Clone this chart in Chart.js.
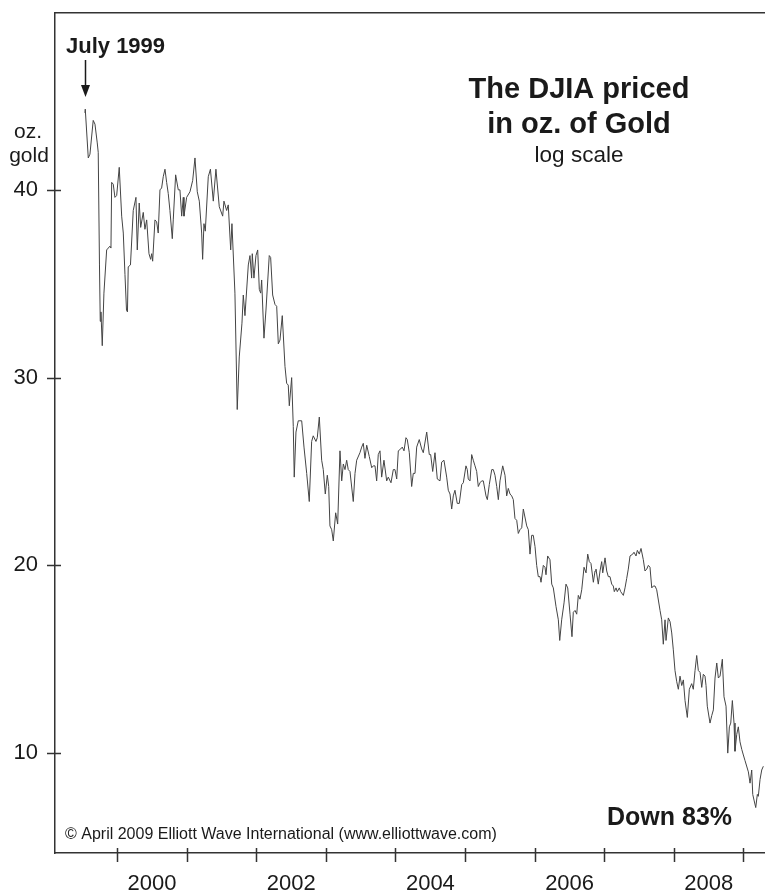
<!DOCTYPE html>
<html>
<head>
<meta charset="utf-8">
<script src="https://cdn.jsdelivr.net/npm/chart.js@4.4.1/dist/chart.umd.min.js"></script>
<style>
  html, body { margin: 0; padding: 0; background: #fff; }
  #wrap { position: relative; width: 765px; height: 892px; }
</style>
</head>
<body>
<div id="wrap"><canvas id="djiaGold" width="765" height="892"></canvas></div>
<script>
// weekly-ish readings, decimal years
const dates = [
  1999.540, 1999.545, 1999.588, 1999.612, 1999.659, 1999.684, 1999.717, 1999.731, 1999.749, 1999.760,
  1999.770, 1999.789, 1999.813, 1999.852, 1999.899, 1999.914, 1999.924, 1999.947, 1999.971, 1999.996,
  2000.033, 2000.068, 2000.091, 2000.115, 2000.137, 2000.151, 2000.162, 2000.194, 2000.234, 2000.273,
  2000.292, 2000.320, 2000.341, 2000.378, 2000.402, 2000.427, 2000.460, 2000.484, 2000.499, 2000.513,
  2000.546, 2000.570, 2000.593, 2000.618, 2000.642, 2000.665, 2000.690, 2000.714, 2000.737, 2000.761,
  2000.795, 2000.809, 2000.843, 2000.881, 2000.905, 2000.930, 2000.953, 2000.963, 2001.001, 2001.049,
  2001.088, 2001.121, 2001.154, 2001.183, 2001.217, 2001.231, 2001.250, 2001.269, 2001.312, 2001.343,
  2001.384, 2001.422, 2001.470, 2001.519, 2001.537, 2001.576, 2001.599, 2001.634, 2001.652, 2001.695,
  2001.728, 2001.757, 2001.796, 2001.815, 2001.839, 2001.887, 2001.911, 2001.935, 2001.944, 2001.968,
  2001.997, 2002.022, 2002.045, 2002.065, 2002.079, 2002.112, 2002.141, 2002.188, 2002.208, 2002.237,
  2002.270, 2002.295, 2002.318, 2002.342, 2002.375, 2002.414, 2002.438, 2002.461, 2002.476, 2002.510,
  2002.533, 2002.547, 2002.572, 2002.605, 2002.629, 2002.654, 2002.687, 2002.726, 2002.763, 2002.797,
  2002.820, 2002.859, 2002.878, 2002.907, 2002.941, 2002.964, 2002.993, 2003.022, 2003.042, 2003.060,
  2003.085, 2003.108, 2003.142, 2003.171, 2003.204, 2003.229, 2003.252, 2003.276, 2003.300, 2003.323,
  2003.348, 2003.395, 2003.420, 2003.444, 2003.491, 2003.516, 2003.539, 2003.563, 2003.588, 2003.625,
  2003.660, 2003.683, 2003.707, 2003.731, 2003.754, 2003.779, 2003.803, 2003.836, 2003.875, 2003.898,
  2003.937, 2003.970, 2003.994, 2004.019, 2004.042, 2004.076, 2004.099, 2004.124, 2004.152, 2004.171,
  2004.200, 2004.234, 2004.257, 2004.282, 2004.306, 2004.343, 2004.378, 2004.401, 2004.450, 2004.487,
  2004.507, 2004.536, 2004.569, 2004.602, 2004.641, 2004.665, 2004.698, 2004.737, 2004.760, 2004.785,
  2004.809, 2004.832, 2004.856, 2004.889, 2004.918, 2004.953, 2004.976, 2005.014, 2005.033, 2005.047,
  2005.072, 2005.096, 2005.119, 2005.144, 2005.168, 2005.191, 2005.216, 2005.240, 2005.263, 2005.302,
  2005.321, 2005.349, 2005.384, 2005.407, 2005.431, 2005.456, 2005.479, 2005.503, 2005.542, 2005.575,
  2005.599, 2005.622, 2005.647, 2005.671, 2005.694, 2005.718, 2005.743, 2005.766, 2005.790, 2005.815,
  2005.838, 2005.887, 2005.910, 2005.934, 2005.958, 2005.981, 2006.006, 2006.030, 2006.053, 2006.078,
  2006.092, 2006.125, 2006.149, 2006.164, 2006.188, 2006.221, 2006.246, 2006.269, 2006.308, 2006.341,
  2006.361, 2006.389, 2006.423, 2006.451, 2006.476, 2006.509, 2006.537, 2006.556, 2006.581, 2006.605,
  2006.628, 2006.652, 2006.677, 2006.710, 2006.739, 2006.763, 2006.786, 2006.810, 2006.844, 2006.868,
  2006.882, 2006.915, 2006.940, 2006.964, 2006.979, 2007.012, 2007.036, 2007.059, 2007.083, 2007.108,
  2007.131, 2007.145, 2007.170, 2007.188, 2007.217, 2007.237, 2007.275, 2007.299, 2007.323, 2007.346,
  2007.371, 2007.410, 2007.428, 2007.457, 2007.476, 2007.504, 2007.529, 2007.562, 2007.586, 2007.611,
  2007.634, 2007.658, 2007.683, 2007.706, 2007.730, 2007.754, 2007.802, 2007.826, 2007.849, 2007.874,
  2007.888, 2007.921, 2007.946, 2007.970, 2007.993, 2008.017, 2008.042, 2008.065, 2008.089, 2008.114,
  2008.137, 2008.161, 2008.194, 2008.223, 2008.257, 2008.280, 2008.305, 2008.329, 2008.352, 2008.377,
  2008.401, 2008.424, 2008.448, 2008.463, 2008.481, 2008.520, 2008.545, 2008.568, 2008.592, 2008.617,
  2008.640, 2008.664, 2008.697, 2008.721, 2008.750, 2008.775, 2008.798, 2008.818, 2008.841, 2008.865,
  2008.879, 2008.904, 2008.927, 2008.951, 2008.976, 2008.999, 2009.023, 2009.071, 2009.095, 2009.119,
  2009.134, 2009.152, 2009.177, 2009.200, 2009.214, 2009.239, 2009.263, 2009.286
];

// DJIA / gold, oz.
const ozGold = [
  44.1, 44.3, 41.7, 41.9, 43.7, 43.5, 42.5, 42.0, 36.0, 33.0,
  33.5, 31.7, 34.5, 36.8, 37.0, 36.9, 40.4, 40.3, 39.6, 39.7,
  41.2, 38.6, 37.7, 35.5, 33.6, 33.5, 35.9, 36.0, 38.9, 39.6,
  36.8, 39.3, 38.0, 38.8, 37.9, 38.4, 36.6, 36.3, 36.6, 36.2,
  38.4, 38.3, 37.7, 40.0, 40.1, 40.7, 41.1, 40.4, 39.8, 38.9,
  37.4, 38.4, 40.8, 40.0, 40.0, 38.6, 39.6, 38.6, 39.6, 39.9,
  40.5, 41.7, 39.9, 39.4, 37.7, 36.3, 38.2, 37.8, 40.7, 41.1,
  39.4, 41.1, 39.1, 38.6, 39.4, 38.9, 39.2, 36.8, 38.2, 34.5,
  28.3, 31.1, 32.9, 34.4, 33.3, 36.0, 36.5, 35.3, 36.6, 35.3,
  36.5, 36.8, 34.7, 34.5, 35.2, 32.1, 33.6, 36.5, 36.4, 34.4,
  33.9, 33.8, 31.8, 32.0, 33.3, 30.6, 29.7, 29.6, 28.5, 30.0,
  27.4, 24.7, 27.1, 27.7, 27.7, 27.7, 26.3, 24.9, 23.4, 26.6,
  26.9, 26.6, 26.8, 27.9, 25.6, 25.1, 23.8, 24.8, 24.2, 22.1,
  21.9, 21.3, 22.8, 22.2, 26.1, 24.5, 25.4, 25.1, 25.6, 25.1,
  25.0, 23.4, 24.9, 25.6, 26.0, 26.3, 26.5, 25.7, 26.4, 25.8,
  25.2, 25.3, 25.3, 24.5, 25.9, 26.1, 24.7, 25.6, 24.5, 24.7,
  24.4, 25.1, 25.1, 24.6, 26.1, 26.2, 26.3, 26.1, 26.8, 26.7,
  26.0, 24.2, 24.9, 24.9, 26.3, 26.7, 26.2, 26.0, 27.1, 25.9,
  25.9, 25.0, 26.0, 24.6, 24.5, 25.5, 25.6, 24.7, 24.0, 23.8,
  23.0, 23.7, 24.0, 23.3, 23.3, 24.3, 24.4, 25.3, 25.1, 24.6,
  24.5, 25.9, 25.6, 25.3, 25.0, 24.2, 24.4, 24.5, 24.5, 23.7,
  23.5, 24.3, 25.1, 25.1, 24.8, 24.2, 23.5, 24.5, 25.3, 24.8,
  23.7, 24.1, 23.8, 23.7, 23.5, 22.5, 22.4, 21.7, 21.9, 22.0,
  23.0, 22.1, 21.9, 20.6, 21.6, 21.6, 21.0, 20.0, 19.4, 19.4,
  19.1, 20.0, 19.9, 19.5, 20.5, 20.3, 19.0, 18.8, 17.8, 17.1,
  16.0, 17.1, 18.0, 19.0, 18.8, 17.4, 16.2, 17.5, 17.6, 17.4,
  18.4, 18.2, 18.7, 19.9, 19.6, 20.6, 20.2, 20.1, 19.1, 19.7,
  19.8, 19.0, 19.7, 20.2, 19.6, 20.4, 19.7, 19.4, 19.4, 19.0,
  18.9, 18.6, 18.8, 18.6, 18.8, 18.6, 18.4, 18.8, 19.3, 19.8,
  20.5, 20.6, 20.7, 20.5, 20.8, 20.6, 20.9, 20.3, 19.7, 19.8,
  20.0, 19.9, 18.8, 18.9, 18.9, 18.7, 17.6, 17.1, 15.8, 17.1,
  16.0, 17.2, 17.0, 16.4, 15.5, 14.4, 13.8, 13.4, 14.1, 13.6,
  13.9, 12.8, 11.9, 13.4, 13.7, 13.4, 14.4, 15.2, 14.4, 14.3,
  13.5, 14.2, 14.1, 13.6, 12.5, 11.6, 12.0, 12.3, 14.0, 14.8,
  14.0, 14.1, 15.0, 13.0, 12.5, 10.0, 11.4, 11.6, 12.8, 11.6,
  10.1, 11.0, 11.4, 10.6, 10.2, 9.9, 9.6, 9.0, 8.4, 9.1,
  7.8, 7.5, 7.1, 7.8, 7.7, 8.6, 9.1, 9.3
];

const yTicks = [10, 20, 30, 40];
const yearTicks = [2000, 2001, 2002, 2003, 2004, 2005, 2006, 2007, 2008, 2009];
const labelledYears = [2000, 2002, 2004, 2006, 2008];

const FONT = '"Liberation Sans", Arial, Helvetica, sans-serif';
const INK = "#1a1a1a";
const AXIS = "#333";

Chart.defaults.font.family = FONT;
Chart.defaults.color = INK;

const points = dates.map((d, i) => ({ x: d, y: ozGold[i] }));

// tick marks that cross the axis lines
const crossTicks = {
  id: "crossTicks",
  afterDraw(chart) {
    const { ctx, chartArea, scales } = chart;
    ctx.save();
    ctx.strokeStyle = AXIS;
    ctx.lineWidth = 1.5;
    ctx.beginPath();
    yTicks.forEach((v) => {
      const y = Math.round(scales.y.getPixelForValue(v)) + 0.5;
      ctx.moveTo(chartArea.left - 8, y);
      ctx.lineTo(chartArea.left + 6, y);
    });
    yearTicks.forEach((v) => {
      const x = Math.round(scales.x.getPixelForValue(v)) + 0.5;
      ctx.moveTo(x, chartArea.bottom - 5);
      ctx.lineTo(x, chartArea.bottom + 9);
    });
    ctx.stroke();
    ctx.restore();
  },
};

// titles, notes and the July 1999 arrow
const notes = {
  id: "notes",
  afterDraw(chart) {
    const { ctx, scales } = chart;
    ctx.save();
    ctx.fillStyle = INK;
    ctx.textBaseline = "middle";

    ctx.textAlign = "center";
    ctx.font = `bold 29px ${FONT}`;
    ctx.fillText("The DJIA priced", 579, 90);
    ctx.fillText("in oz. of Gold", 579, 125);
    ctx.font = `22.5px ${FONT}`;
    ctx.fillText("log scale", 579, 156);

    ctx.font = `21px ${FONT}`;
    ctx.fillText("oz.", 28, 132);
    ctx.fillText("gold", 29, 156);

    ctx.textAlign = "left";
    ctx.font = `bold 22px ${FONT}`;
    ctx.fillText("July 1999", 66, 47);

    ctx.font = `bold 25px ${FONT}`;
    ctx.fillText("Down 83%", 607, 818);

    ctx.font = `16px ${FONT}`;
    ctx.fillText("\u00A9 April 2009 Elliott Wave International (www.elliottwave.com)", 65, 835);

    // arrow pointing at the first reading
    const ax = Math.round(scales.x.getPixelForValue(dates[0])) + 0.5;
    ctx.strokeStyle = INK;
    ctx.lineWidth = 1.5;
    ctx.beginPath();
    ctx.moveTo(ax, 60);
    ctx.lineTo(ax, 88);
    ctx.stroke();
    ctx.beginPath();
    ctx.moveTo(ax - 4.5, 85);
    ctx.lineTo(ax + 4.5, 85);
    ctx.lineTo(ax, 97);
    ctx.closePath();
    ctx.fill();
    ctx.restore();
  },
};

const ctx = document.getElementById("djiaGold").getContext("2d");

new Chart(ctx, {
  type: "line",
  data: {
    datasets: [
      {
        data: points,
        borderColor: "#444",
        borderWidth: 1,
        pointRadius: 0,
        tension: 0,
        fill: false,
      },
    ],
  },
  options: {
    responsive: false,
    animation: false,
    layout: {
      padding: { top: 13, right: 0, bottom: 0, left: 0 },
    },
    scales: {
      x: {
        type: "linear",
        position: "bottom",
        min: 1999.11,
        max: 2009.31,
        afterBuildTicks: (scale) => {
          scale.ticks = yearTicks.map((v) => ({ value: v }));
        },
        afterFit: (scale) => {
          scale.height = 39;
          scale.paddingLeft = 0;
          scale.paddingRight = 0;
        },
        grid: { display: false, drawTicks: false },
        border: { display: true, color: AXIS, width: 1.5 },
        ticks: {
          autoSkip: false,
          maxRotation: 0,
          padding: 18,
          labelOffset: 35,
          color: INK,
          font: { size: 22 },
          callback: (v) => (labelledYears.includes(v) ? String(v) : ""),
        },
      },
      xTop: {
        type: "linear",
        position: "top",
        min: 1999.11,
        max: 2009.31,
        afterFit: (scale) => {
          scale.height = 0;
          scale.paddingLeft = 0;
          scale.paddingRight = 0;
        },
        grid: { display: false, drawTicks: false },
        border: { display: true, color: AXIS, width: 1.5 },
        ticks: { display: false },
      },
      y: {
        type: "linear",
        min: 4.68,
        max: 49.42,
        afterBuildTicks: (scale) => {
          scale.ticks = yTicks.map((v) => ({ value: v }));
        },
        afterFit: (scale) => {
          scale.width = 55;
          scale.paddingTop = 0;
          scale.paddingBottom = 0;
        },
        grid: { display: false, drawTicks: false },
        border: { display: true, color: AXIS, width: 1.5 },
        ticks: {
          padding: 17,
          color: INK,
          font: { size: 22 },
        },
      },
    },
    plugins: {
      legend: { display: false },
      tooltip: { enabled: false },
    },
  },
  plugins: [crossTicks, notes],
});
</script>
</body>
</html>
